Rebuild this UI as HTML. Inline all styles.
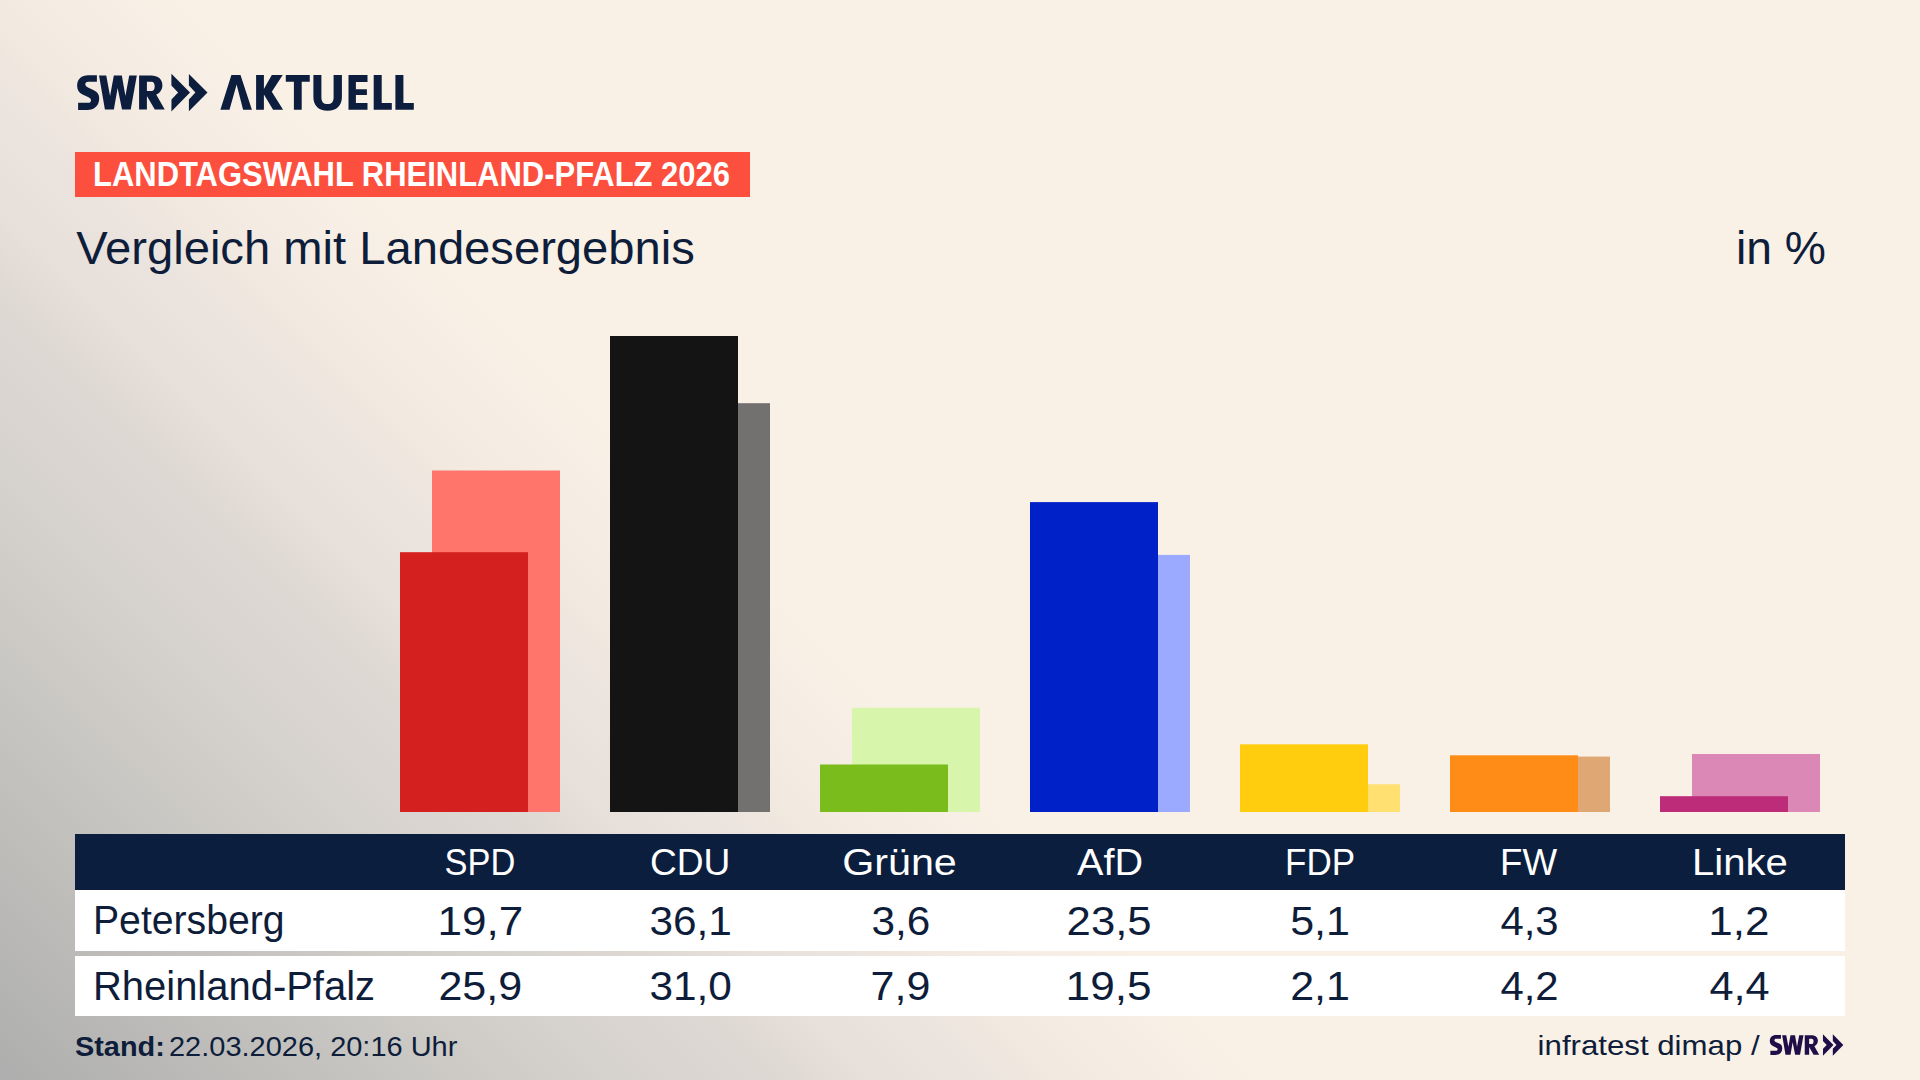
<!DOCTYPE html>
<html><head><meta charset="utf-8">
<style>
html,body{margin:0;padding:0;width:1920px;height:1080px;overflow:hidden;}
body{background:#f9f1e7;}
#bg{position:absolute;left:0;top:0;width:1920px;height:1080px;
background:linear-gradient(45deg, #aeaeae 0%, #b1b1b0 1.7%, #d3d0cb 19%, #dad5d0 23%, #ddd8d2 25.7%, #e7dfda 29%, #ece4de 33%, #f1e8df 35%, #f3eae2 36.5%, #f9f0e6 42%, #f9f0e6 100%);}
svg{position:absolute;left:0;top:0;}
text{font-family:"Liberation Sans",sans-serif;}
</style></head>
<body>
<div id="bg"></div>
<svg width="1920" height="1080" viewBox="0 0 1920 1080">
<defs>
<g id="swr">
<path d="M96.9,75.2 V81.7 H88.3 C86.2,81.7 85.3,82.8 85.3,84.3 C85.3,85.9 86.6,86.9 88.5,87.8 L93.8,90.2 C97.5,91.9 99.2,94.5 99.2,98.3 C99.2,105.5 94.5,110.1 87,110.1 H78.1 V102.8 H88 C90,102.8 91,101.8 91,100.2 C91,98.7 90,97.8 88,96.9 L82.6,94.4 C78.9,92.7 77.1,89.6 77.1,85.7 C77.1,79.2 81.5,75.2 88.3,75.2 Z"/>
<path d="M99.04,75.5 L106.25,75.5 L110.05,95.9 L113.84,75.5 L121.82,75.5 L125.42,95.9 L129.22,75.5 L136.81,75.5 L130.74,109.6 L122.01,109.6 L117.64,87.95 L113.84,109.6 L104.92,109.6 Z"/>
<path fill-rule="evenodd" d="M139.1,75.4 H151 C158,75.4 162.4,79 162.4,85.2 C162.4,89.8 159.8,93.1 156.2,94.6 L164.7,109.6 H154.8 L147.2,96.5 H146.9 V109.6 H139.1 Z M146.9,81.8 V91 H151.5 C153.6,91 154.7,89 154.7,86.4 C154.7,83.8 153.6,81.8 151.5,81.8 Z"/>
<path d="M171.4,73.75 L190.0,92.5 L171.4,111.5 L171.5,99.4 L178.1,92.5 L171.4,85.6 Z"/>
<path d="M188.9,74 L207.5,92.5 L188.9,111.25 L188.9,99.4 L195.4,92.5 L188.9,85.6 Z"/>
</g>
</defs>
<g fill="#0c1d3e">
<use href="#swr"/>
<path d="M231.4,75 L240.5,75 L251.9,109.8 L243.1,109.8 L236.6,84.6 L229.5,109.8 L220.4,109.8 Z"/>
<path d="M256.1,75 H263.9 V89.0 L271.8,75 H282.7 L271.8,91.8 L283.1,109.8 H273.1 L263.9,94.6 V109.8 H256.1 Z"/>
<path d="M285.8,75 H309.75 V81.7 H301.7 V109.8 H293.9 V81.7 H285.8 Z"/>
<path d="M313.4,75 H321.4 V97.5 C321.4,101.8 323.4,104.1 327.5,104.1 C331.6,104.1 333.6,101.8 333.6,97.5 V75 H341.9 V97 C341.9,105.6 336.8,110.7 327.6,110.7 C318.5,110.7 313.4,105.6 313.4,97 Z"/>
<path d="M348.5,75 H367.5 V81.9 H355.9 V89.3 H366.9 V94.9 H355.9 V103 H367.5 V109.8 H348.5 Z"/>
<path d="M373.7,75 H381.7 V103 H391.8 V109.8 H373.7 Z"/>
<path d="M395.4,75 H403.4 V103 H413.8 V109.8 H395.4 Z"/>
</g>
<rect x="75" y="152" width="675" height="45" fill="#fd4f3d"/>
<g>
<rect x="432" y="470.5" width="128" height="341.5" fill="#ff746b"/>
<rect x="400" y="552.2" width="128" height="259.8" fill="#d52020"/>
<rect x="642" y="403.2" width="128" height="408.8" fill="#727170"/>
<rect x="610" y="336" width="128" height="476" fill="#141414"/>
<rect x="852" y="707.8" width="128" height="104.2" fill="#d7f5ab"/>
<rect x="820" y="764.5" width="128" height="47.5" fill="#79bc1c"/>
<rect x="1062" y="554.9" width="128" height="257.1" fill="#9ba9ff"/>
<rect x="1030" y="502.1" width="128" height="309.9" fill="#0021c8"/>
<rect x="1272" y="784.3" width="128" height="27.7" fill="#ffe070"/>
<rect x="1240" y="744.3" width="128" height="67.7" fill="#ffcd0e"/>
<rect x="1482" y="756.6" width="128" height="55.4" fill="#dfa773"/>
<rect x="1450" y="755.3" width="128" height="56.7" fill="#ff8c17"/>
<rect x="1692" y="754" width="128" height="58" fill="#dc88b6"/>
<rect x="1660" y="796.2" width="128" height="15.8" fill="#bc2c79"/>
</g>
<rect x="75" y="834" width="1770" height="56" fill="#0c1e3e"/>
<rect x="75" y="890" width="1770" height="61" fill="#ffffff"/>
<rect x="75" y="956" width="1770" height="60" fill="#ffffff"/>
<text x="93.00" y="186.3" font-size="34.5" font-weight="bold" fill="#ffffff" textLength="637.00" lengthAdjust="spacingAndGlyphs">LANDTAGSWAHL RHEINLAND-PFALZ 2026</text>
<text x="76.20" y="264" font-size="46" fill="#0e1d3a" textLength="618.60" lengthAdjust="spacingAndGlyphs">Vergleich mit Landesergebnis</text>
<text x="1736.00" y="264" font-size="46" fill="#0e1d3a" textLength="90.00" lengthAdjust="spacingAndGlyphs">in %</text>
<text x="444.60" y="875.3" font-size="36" fill="#ffffff" textLength="70.80" lengthAdjust="spacingAndGlyphs">SPD</text>
<text x="650.00" y="875.3" font-size="36" fill="#ffffff" textLength="80.40" lengthAdjust="spacingAndGlyphs">CDU</text>
<text x="842.20" y="875.3" font-size="36" fill="#ffffff" textLength="114.60" lengthAdjust="spacingAndGlyphs">Grüne</text>
<text x="1077.00" y="875.3" font-size="36" fill="#ffffff" textLength="66.00" lengthAdjust="spacingAndGlyphs">AfD</text>
<text x="1285.00" y="875.3" font-size="36" fill="#ffffff" textLength="70.00" lengthAdjust="spacingAndGlyphs">FDP</text>
<text x="1500.00" y="875.3" font-size="36" fill="#ffffff" textLength="57.00" lengthAdjust="spacingAndGlyphs">FW</text>
<text x="1692.00" y="875.3" font-size="36" fill="#ffffff" textLength="95.80" lengthAdjust="spacingAndGlyphs">Linke</text>
<text x="437.40" y="934.6" font-size="40" fill="#0e1d3a" textLength="85.80" lengthAdjust="spacingAndGlyphs">19,7</text>
<text x="649.40" y="934.6" font-size="40" fill="#0e1d3a" textLength="82.40" lengthAdjust="spacingAndGlyphs">36,1</text>
<text x="871.60" y="934.6" font-size="40" fill="#0e1d3a" textLength="58.80" lengthAdjust="spacingAndGlyphs">3,6</text>
<text x="1066.60" y="934.6" font-size="40" fill="#0e1d3a" textLength="85.00" lengthAdjust="spacingAndGlyphs">23,5</text>
<text x="1290.20" y="934.6" font-size="40" fill="#0e1d3a" textLength="59.80" lengthAdjust="spacingAndGlyphs">5,1</text>
<text x="1500.40" y="934.6" font-size="40" fill="#0e1d3a" textLength="58.20" lengthAdjust="spacingAndGlyphs">4,3</text>
<text x="1708.20" y="934.6" font-size="40" fill="#0e1d3a" textLength="61.20" lengthAdjust="spacingAndGlyphs">1,2</text>
<text x="438.40" y="1000.3" font-size="40" fill="#0e1d3a" textLength="83.80" lengthAdjust="spacingAndGlyphs">25,9</text>
<text x="649.40" y="1000.3" font-size="40" fill="#0e1d3a" textLength="82.40" lengthAdjust="spacingAndGlyphs">31,0</text>
<text x="870.60" y="1000.3" font-size="40" fill="#0e1d3a" textLength="59.80" lengthAdjust="spacingAndGlyphs">7,9</text>
<text x="1065.60" y="1000.3" font-size="40" fill="#0e1d3a" textLength="86.00" lengthAdjust="spacingAndGlyphs">19,5</text>
<text x="1290.20" y="1000.3" font-size="40" fill="#0e1d3a" textLength="59.80" lengthAdjust="spacingAndGlyphs">2,1</text>
<text x="1500.40" y="1000.3" font-size="40" fill="#0e1d3a" textLength="58.20" lengthAdjust="spacingAndGlyphs">4,2</text>
<text x="1709.40" y="1000.3" font-size="40" fill="#0e1d3a" textLength="60.20" lengthAdjust="spacingAndGlyphs">4,4</text>
<text x="93.00" y="933.8" font-size="40" fill="#0e1d3a" textLength="191.60" lengthAdjust="spacingAndGlyphs">Petersberg</text>
<text x="93.00" y="999.7" font-size="40" fill="#0e1d3a" textLength="282.00" lengthAdjust="spacingAndGlyphs">Rheinland-Pfalz</text>
<text x="75.00" y="1056.1" font-size="28" font-weight="bold" fill="#0e1d3a" textLength="89.80" lengthAdjust="spacingAndGlyphs">Stand:</text>
<text x="169.00" y="1056.1" font-size="28" fill="#0e1d3a" textLength="288.40" lengthAdjust="spacingAndGlyphs">22.03.2026, 20:16 Uhr</text>
<text x="1537.60" y="1055.4" font-size="28" fill="#0e1d3a" textLength="222.00" lengthAdjust="spacingAndGlyphs">infratest dimap /</text>
<g fill="#1f0e47" transform="translate(1769.8,1034.2) scale(0.5637,0.572) translate(-77.1,-73.75)">
<use href="#swr"/>
</g>
</svg>
</body></html>
